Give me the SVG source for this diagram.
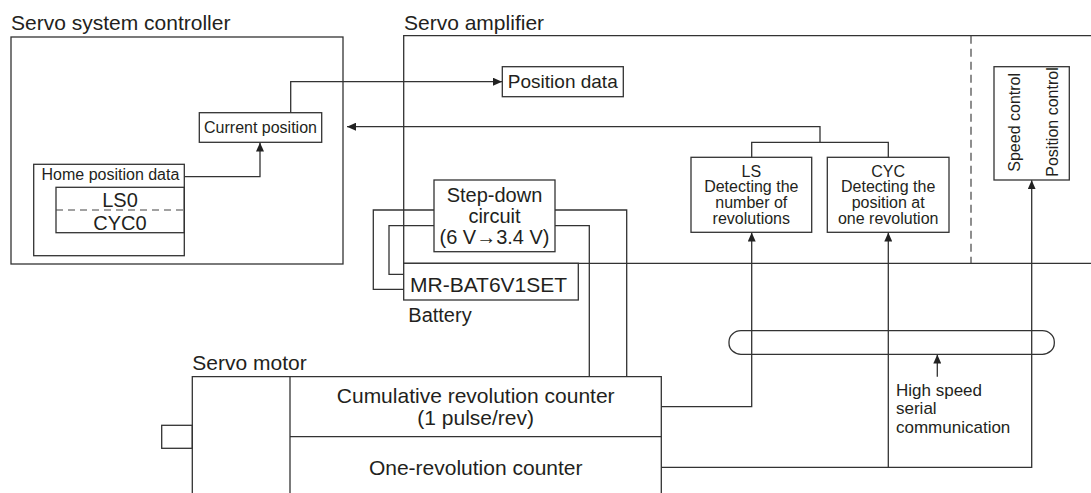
<svg xmlns="http://www.w3.org/2000/svg" width="1091" height="493" viewBox="0 0 1091 493">
<style>
.b{fill:none;stroke:#333;stroke-width:1.3}
.w{fill:#fff;stroke:#333;stroke-width:1.3}
.l{fill:none;stroke:#333;stroke-width:1.3}
.d{fill:none;stroke:#444;stroke-width:1.2;stroke-dasharray:8 5}
text{font-family:"Liberation Sans",Arial,sans-serif;fill:#231f20}
.t21{font-size:21px}
.t20{font-size:20px}
.t19{font-size:19px}
.t17{font-size:17px}
.t16{font-size:16px}
.c{text-anchor:middle}
</style>
<defs>
<marker id="a" markerUnits="userSpaceOnUse" markerWidth="9" markerHeight="8" refX="9" refY="4" orient="auto">
<path d="M0,0 L9,4 L0,8 z" fill="#222"/>
</marker>
</defs>

<g id="controller">
<text class="t21" x="11" y="29.5">Servo system controller</text>
<rect class="b" x="11" y="37" width="332" height="227"/>
</g>

<g id="current-position">
<rect class="w" x="199.3" y="112.7" width="122.4" height="29.6"/>
<text class="t16 c" x="260.5" y="132.8">Current position</text>
</g>

<g id="home-position-data">
<rect class="b" x="33.7" y="164.3" width="150.6" height="91.4"/>
<text class="t16" x="41.5" y="180">Home position data</text>
<rect class="b" x="56" y="187.3" width="128.3" height="45.4"/>
<line class="d" x1="56" y1="210" x2="187" y2="210" style="stroke-dasharray:7 5"/>
<text class="t20 c" x="120" y="206.7">LS0</text>
<text class="t20 c" x="120" y="230">CYC0</text>
</g>

<g id="amplifier">
<text class="t21" x="404" y="29.5">Servo amplifier</text>
<path class="b" d="M1091,35.7 H403.7 V263.3 H1091"/>
<line class="d" x1="971" y1="35.7" x2="971" y2="263.3"/>
</g>

<g id="position-data">
<rect class="w" x="502.3" y="66.7" width="121" height="30"/>
<text class="t19 c" x="562.8" y="88.3">Position data</text>
</g>

<g id="step-down">
<rect class="w" x="434" y="180" width="121" height="71.7"/>
<text class="t20 c" x="494.5" y="201.7">Step-down</text>
<text class="t20 c" x="494.5" y="223.3">circuit</text>
<text class="t20 c" x="494.5" y="244.3">(6 V→3.4 V)</text>
</g>

<g id="battery">
<rect class="w" x="403.7" y="263.3" width="174.6" height="36.7"/>
<text class="t21" x="410" y="291.7">MR-BAT6V1SET</text>
<text class="t20" x="408.3" y="321.7">Battery</text>
</g>

<g id="ls">
<rect class="w" x="691" y="157.3" width="120.7" height="75"/>
<text class="t16 c" x="751.3" y="176.7">LS</text>
<text class="t16 c" x="751.3" y="192.3">Detecting the</text>
<text class="t16 c" x="751.3" y="208.3">number of</text>
<text class="t16 c" x="751.3" y="224.3">revolutions</text>
</g>

<g id="cyc">
<rect class="w" x="827.3" y="157.3" width="121.7" height="75"/>
<text class="t16 c" x="888.2" y="176.7">CYC</text>
<text class="t16 c" x="888.2" y="192.3">Detecting the</text>
<text class="t16 c" x="888.2" y="208.3">position at</text>
<text class="t16 c" x="888.2" y="224.3">one revolution</text>
</g>

<g id="control">
<rect class="w" x="994" y="66.7" width="75.3" height="113.3"/>
<text class="t16" transform="translate(1020,171.7) rotate(-90)">Speed control</text>
<text class="t16" transform="translate(1058.3,176.7) rotate(-90)">Position control</text>
</g>

<g id="servo-motor">
<text class="t21" x="192.3" y="370">Servo motor</text>
<path class="b" d="M192.3,494 V376.7 H661.3 V494"/>
<line class="l" x1="290" y1="376.7" x2="290" y2="494"/>
<line class="l" x1="290" y1="436.7" x2="661.3" y2="436.7"/>
<rect class="b" x="161.7" y="425.3" width="30.6" height="23"/>
<text class="t21 c" x="475.7" y="403.3">Cumulative revolution counter</text>
<text class="t21 c" x="475.7" y="425">(1 pulse/rev)</text>
<text class="t21 c" x="475.7" y="475">One-revolution counter</text>
</g>

<g id="serial">
<rect class="b" x="729" y="330.7" width="325.3" height="23.6" rx="12" ry="11"/>
<text class="t17" x="896" y="395.5">High speed</text>
<text class="t17" x="896" y="414">serial</text>
<text class="t17" x="896" y="432.5">communication</text>
</g>

<g id="connectors">
<path class="l" d="M290.7,112.7 V81.7 H502" marker-end="url(#a)"/>
<path class="l" d="M820,142.3 V126.7 H347" marker-end="url(#a)"/>
<path class="l" d="M751.7,157.3 V142.3 H888.3 V157.3"/>
<path class="l" d="M184.3,176.7 H260 V142.6" marker-end="url(#a)"/>
<path class="l" d="M434,210 H373.3 V289.3 H403.7"/>
<path class="l" d="M434,225.7 H389 V274.3 H403.7"/>
<path class="l" d="M555,210 H626.7 V376.7"/>
<path class="l" d="M555,225.7 H589.3 V376.7"/>
<path class="l" d="M661.3,406.7 H751.7 V232.6" marker-end="url(#a)"/>
<path class="l" d="M661.3,467.3 H1031.7 V180.3" marker-end="url(#a)"/>
<path class="l" d="M888.3,467.3 V232.6" marker-end="url(#a)"/>
<path class="l" d="M937.3,376.7 V354.6" marker-end="url(#a)"/>
</g>
</svg>
